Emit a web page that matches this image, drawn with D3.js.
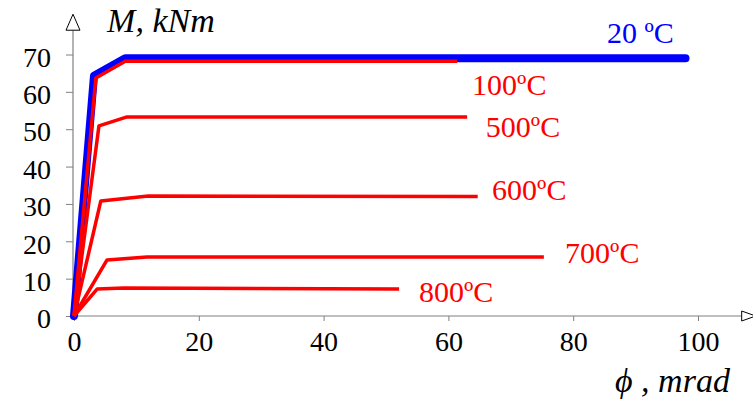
<!DOCTYPE html>
<html>
<head>
<meta charset="utf-8">
<script src="https://cdn.jsdelivr.net/npm/d3@7"></script>
<style>
  body { margin: 0; background: #fff; }
  svg text { font-family: "Liberation Serif", Tinos, "Times New Roman", Times, "DejaVu Serif", serif; }
</style>
</head>
<body>
<div id="container"></div>
<script>
/* CONSTANTS AND GLOBALS */
const width = 753,
  height = 406,
  margin = { top: 54.5, bottom: 90, left: 74, right: 55 }

/* DATA - rotation phi (mrad) vs moment M (kNm) */
const xTicks = [0, 20, 40, 60, 80, 100]
const yTicks = [0, 10, 20, 30, 40, 50, 60, 70]

const t20 = [[0, 0], [3.2, 64.3], [8.2, 69.0], [98, 69.0]]
const t100 = [[0, 0], [3.5, 63.7], [8.2, 68.2], [61.4, 68.2]]
const t500 = [[0, 0], [4.0, 50.9], [8.5, 53.3], [63.0, 53.3]]
const t600 = [[0, 0], [4.3, 30.8], [11.9, 32.1], [64.7, 32.0]]
const t700 = [[0, 0], [5.3, 15.0], [11.7, 15.8], [75.3, 15.8]]
const t800 = [[0, 0], [3.7, 7.2], [8.0, 7.5], [52.1, 7.2]]

const seriesNames = ["20 ºC", "100ºC", "500ºC", "600ºC", "700ºC", "800ºC"]
const seriesData = [t20, t100, t500, t600, t700, t800]
// where each label sits, in chart units (phi, M)
const labelAt = [[85.4, 73.1], [63.8, 59.2], [66.0, 47.9], [67.0, 31.0], [78.7, 14.2], [55.3, 3.7]]

// + SCALES
const xScale = d3.scaleLinear()
  .domain([0, 100])
  .range([margin.left, width - margin.right])

const yScale = d3.scaleLinear()
  .domain([0, 70])
  .range([height - margin.bottom, margin.top])

// CREATE SVG ELEMENT
const svg = d3.select("#container")
  .append("svg")
  .attr("width", width)
  .attr("height", height)

const axisColor = "#808080"

// BUILD AND CALL AXES
const xAxisGroup = svg.append("g")
  .attr("transform", `translate(0, ${yScale(0)})`)
  .call(d3.axisBottom(xScale).tickValues(xTicks).tickSize(5).tickSizeOuter(0).tickPadding(10))

const yAxisGroup = svg.append("g")
  .attr("transform", `translate(${xScale(0) - 1}, 0)`)
  .call(d3.axisLeft(yScale).tickValues(yTicks).tickSize(7).tickSizeOuter(0).tickPadding(15))

svg.selectAll("g").attr("font-family", null)
svg.selectAll(".domain").remove()
svg.selectAll(".tick line").attr("stroke", axisColor)
svg.selectAll(".tick text")
  .attr("fill", "#000")
  .attr("font-size", 28)
yAxisGroup.selectAll(".tick text").attr("dy", "0.42em")
xAxisGroup.selectAll(".tick text").attr("dy", "0.72em")

// axis lines with open arrow heads
const x0 = xScale(0) - 1, y0 = yScale(0)
const xEnd = xScale(107), yEnd = yScale(76.5)
svg.append("line")
  .attr("x1", x0).attr("y1", y0).attr("x2", xEnd).attr("y2", y0)
  .attr("stroke", axisColor).attr("stroke-width", 1.2)
svg.append("line")
  .attr("x1", x0).attr("y1", y0).attr("x2", x0).attr("y2", yEnd)
  .attr("stroke", axisColor).attr("stroke-width", 1.2)

svg.append("path")
  .attr("d", `M${xEnd},${y0 - 5}L${xEnd + 14},${y0}L${xEnd},${y0 + 5}Z`)
  .attr("fill", "#fff").attr("stroke", "#000").attr("stroke-width", 1)
svg.append("path")
  .attr("d", `M${x0 - 7},${yEnd}L${x0},${yEnd - 16}L${x0 + 7},${yEnd}Z`)
  .attr("fill", "#fff").attr("stroke", "#000").attr("stroke-width", 1)

// axis titles
svg.append("text")
  .attr("x", xScale(5.3)).attr("y", 32)
  .attr("font-size", 34).attr("font-style", "italic")
  .text("M, kNm")

svg.append("text")
  .attr("x", xScale(86.7)).attr("y", 392)
  .attr("font-size", 34).attr("font-style", "italic")
  .text("ϕ , mrad")

// LINE GENERATOR FUNCTION
const lineGen = d3.line()
  .x(d => xScale(d[0]))
  .y(d => yScale(d[1]))

// DRAW LINES (blue 20ºC first, red ones on top)
svg.selectAll(".line")
  .data(seriesData)
  .join("path")
  .attr("class", "line")
  .attr("d", d => lineGen(d))
  .attr("fill", "none")
  .attr("stroke", (d, i) => i === 0 ? "#0000ff" : "#ff0000")
  .attr("stroke-width", (d, i) => i === 0 ? 8 : 3.5)
  .attr("stroke-linejoin", "round")
  .attr("stroke-linecap", (d, i) => i === 0 ? "round" : "butt")

// LABELS
svg.selectAll(".label")
  .data(seriesNames)
  .join("text")
  .attr("class", "label")
  .attr("x", (d, i) => xScale(labelAt[i][0]))
  .attr("y", (d, i) => yScale(labelAt[i][1]))
  .attr("font-size", 30)
  .attr("fill", (d, i) => i === 0 ? "#0000ff" : "#ff0000")
  .text(d => d)
</script>
</body>
</html>
